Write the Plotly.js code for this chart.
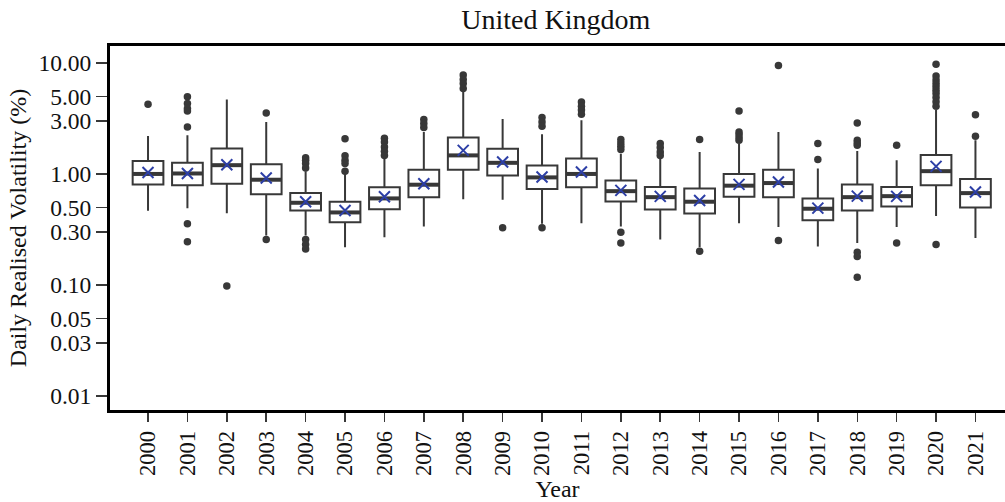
<!DOCTYPE html>
<html>
<head>
<meta charset="utf-8">
<script src="https://cdn.plot.ly/plotly-3.0.1.min.js"></script>
<style>
  html, body { margin: 0; padding: 0; background: #ffffff; }
  #chart { width: 1005px; height: 502px; }
</style>
</head>
<body>
<div id="chart"></div>
<script>
const years = ["2000","2001","2002","2003","2004","2005","2006","2007","2008","2009","2010",
               "2011","2012","2013","2014","2015","2016","2017","2018","2019","2020","2021"];

const lowerFence = [0.466,0.49,0.443,0.279,0.279,0.219,0.269,0.336,0.593,0.586,0.356,
                    0.36,0.336,0.257,0.219,0.36,0.332,0.222,0.239,0.332,0.417,0.265];
const q1         = [0.805,0.79,0.817,0.655,0.469,0.367,0.482,0.618,1.09,0.97,0.731,
                    0.757,0.565,0.479,0.44,0.623,0.618,0.383,0.469,0.51,0.79,0.499];
const medians    = [1.00,1.01,1.20,0.887,0.55,0.45,0.602,0.80,1.47,1.26,0.931,
                    1.00,0.70,0.618,0.562,0.784,0.828,0.486,0.618,0.631,1.06,0.672];
const q3         = [1.31,1.26,1.70,1.22,0.672,0.562,0.757,1.09,2.13,1.69,1.19,
                    1.38,0.875,0.762,0.741,1.00,1.09,0.602,0.805,0.762,1.48,0.90];
const upperFence = [2.20,2.23,4.69,2.94,1.06,1.00,1.37,2.39,5.69,3.13,2.28,
                    3.05,1.52,1.42,1.58,1.88,2.39,1.12,1.61,1.33,3.76,2.01];
const means      = [1.03,1.01,1.21,0.918,0.562,0.469,0.623,0.817,1.63,1.28,0.94,
                    1.04,0.711,0.628,0.577,0.805,0.845,0.492,0.631,0.628,1.17,0.687];

const outliers = [
  [4.25],
  [4.95,4.32,3.89,3.70,2.65,0.356,0.245],
  [0.098],
  [3.55,0.257],
  [1.40,1.33,1.24,1.13,0.257,0.231,0.211],
  [2.08,1.46,1.33,1.24,1.06],
  [2.10,1.94,1.75,1.60,1.47],
  [3.09,2.85,2.62],
  [7.78,7.11,6.54,5.9],
  [0.327],
  [3.23,2.94,2.69,0.327],
  [4.44,4.08,3.76,3.46],
  [2.04,1.90,1.78,1.66,0.299,0.239],
  [1.88,1.73,1.58,1.47],
  [2.04,0.201],
  [3.70,2.39,2.27,2.13,2.01],
  [9.5,0.251],
  [1.88,1.35],
  [2.88,2.01,1.90,1.81,0.197,0.18,0.117],
  [1.81,0.239],
  [9.72,7.62,7.01,6.54,6.1,5.69,5.32,4.89,4.47,4.08,0.231],
  [3.41,2.19]
];

const yTickVals = [0.01,0.03,0.05,0.1,0.3,0.5,1,3,5,10];
const yTickText = ["0.01","0.03","0.05","0.10","0.30","0.50","1.00","3.00","5.00","10.00"];

const outX = [], outY = [];
outliers.forEach((arr, i) => arr.forEach(v => { outX.push(years[i]); outY.push(v); }));

const dark = "#383838";
const font = "'Liberation Serif', 'Times New Roman', Times, serif";

const traces = [
  {
    type: "box",
    x: years,
    q1: q1, median: medians, q3: q3,
    lowerfence: lowerFence, upperfence: upperFence,
    width: 0.78,
    whiskerwidth: 0,
    fillcolor: "#ffffff",
    line: { color: dark, width: 2 },
    boxpoints: false,
    hoverinfo: "skip",
    showlegend: false
  },
  {
    type: "scatter", mode: "markers",
    x: years, y: medians,
    marker: { symbol: "line-ew", size: 22, color: dark, line: { color: dark, width: 4 } },
    hoverinfo: "skip", showlegend: false
  },
  {
    type: "scatter", mode: "markers",
    x: outX, y: outY,
    marker: { symbol: "circle", size: 7.5, color: dark, line: { width: 0 } },
    hoverinfo: "skip", showlegend: false
  },
  {
    type: "scatter", mode: "markers",
    x: years, y: means,
    marker: { symbol: "x-thin", size: 11, color: "#2d3fa6", line: { color: "#2d3fa6", width: 2 } },
    hoverinfo: "skip", showlegend: false
  }
];

const layout = {
  width: 1005, height: 502,
  margin: { l: 110, r: 0, t: 46, b: 92 },
  paper_bgcolor: "#ffffff",
  plot_bgcolor: "#ffffff",
  font: { family: font, color: "#111111", size: 23 },
  title: { text: "United Kingdom", font: { family: font, size: 28, color: "#111111" },
           x: 0.553, xanchor: "center", y: 0.962, yanchor: "middle" },
  showlegend: false,
  xaxis: {
    type: "category",
    range: [-0.965, 21.75],
    showgrid: false, zeroline: false,
    showline: true, linecolor: "#000000", linewidth: 3, mirror: true,
    ticks: "outside", ticklen: 9, tickwidth: 1.5, tickcolor: dark,
    tickangle: -90,
    tickfont: { family: font, size: 22.5, color: "#111111" },
    title: { text: "Year", font: { family: font, size: 24, color: "#111111" }, standoff: 0 }
  },
  yaxis: {
    type: "log",
    range: [-2.127, 1.153],
    showgrid: false, zeroline: false,
    showline: true, linecolor: "#000000", linewidth: 3,
    ticks: "outside", ticklen: 11, tickwidth: 1.5, tickcolor: dark,
    tickvals: yTickVals, ticktext: yTickText,
    tickfont: { family: font, size: 23.5, color: "#111111" },
    title: { text: "Daily Realised Volatility (%)", font: { family: font, size: 24, color: "#111111" }, standoff: 6 }
  }
};

Plotly.newPlot("chart", traces, layout, { staticPlot: true, displayModeBar: false });
</script>
</body>
</html>
